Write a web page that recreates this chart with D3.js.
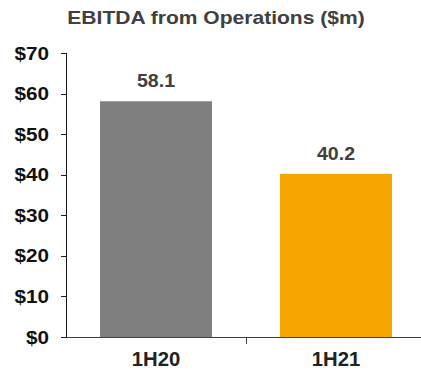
<!DOCTYPE html>
<html><head><meta charset="utf-8">
<script src="https://cdn.jsdelivr.net/npm/d3@7"></script>
<style>
html,body{margin:0;padding:0;background:#fff;}
svg{display:block;}
text{font-family:"Liberation Sans",Arial,sans-serif;font-weight:bold;}
</style></head>
<body>
<svg id="chart" width="421" height="370"></svg>
<script>
const categories = ["1H20", "1H21"];
const values = [58.1, 40.2];
const labels = ["58.1", "40.2"];
const colors = ["#7f7f7f", "#f5a400"];
const yTicks = [0, 10, 20, 30, 40, 50, 60, 70];
const title = "EBITDA from Operations ($m)";

const svg = d3.select("#chart");
const mLeft = 66, mRight = 426, mTop = 53, mBottom = 337;

const x = d3.scaleBand().domain(categories).range([mLeft, mRight])
  .paddingInner(0.378).paddingOuter(0.189);
const y = d3.scaleLinear().domain([0, 70]).range([mBottom, mTop]);

function stretched(sel, px, py, anchor, sx) {
  return sel.attr("transform", `translate(${px},${py}) scale(${sx},1)`).attr("text-anchor", anchor);
}

// title
stretched(svg.append("text"), 216, 24, "middle", 1.17)
  .attr("font-size", 18).attr("fill", "#404040").text(title);

// bars
svg.selectAll("rect.bar").data(values).join("rect")
  .attr("class", "bar")
  .attr("x", (d, i) => x(categories[i]))
  .attr("width", x.bandwidth())
  .attr("y", d => y(d))
  .attr("height", d => y(0) - y(d))
  .attr("fill", (d, i) => colors[i]);

// value labels
values.forEach((v, i) => {
  stretched(svg.append("text"), x(categories[i]) + x.bandwidth() / 2, y(v) - 14, "middle", 1.12)
    .attr("font-size", 17.5).attr("fill", "#404040").text(labels[i]);
});

// y axis
const yAxis = svg.append("g");
yAxis.append("line").attr("x1", mLeft + 0.5).attr("x2", mLeft + 0.5).attr("y1", y(70)).attr("y2", y(0))
  .attr("stroke", "#1a1a1a").attr("stroke-width", 1);
yTicks.forEach(t => {
  yAxis.append("line").attr("x1", mLeft - 5).attr("x2", mLeft).attr("y1", Math.round(y(t)) + 0.5).attr("y2", Math.round(y(t)) + 0.5)
    .attr("stroke", "#1a1a1a").attr("stroke-width", 1);
  stretched(yAxis.append("text"), 49, y(t) + 6.5, "end", 1.15)
    .attr("font-size", 18).attr("fill", "#111").text("$" + t);
});

// x axis
const xAxis = svg.append("g");
xAxis.append("line").attr("x1", mLeft).attr("x2", mRight).attr("y1", Math.round(y(0)) + 0.5).attr("y2", Math.round(y(0)) + 0.5)
  .attr("stroke", "#404040").attr("stroke-width", 1);
const step = x.step();
[0, 1].forEach(i => {
  const bx = mLeft + step * (i + 1) + 0.5;
  xAxis.append("line").attr("x1", bx).attr("x2", bx).attr("y1", y(0)).attr("y2", y(0) + 7)
    .attr("stroke", "#404040").attr("stroke-width", 1);
});
categories.forEach(c => {
  stretched(xAxis.append("text"), x(c) + x.bandwidth() / 2, 366, "middle", 1.04)
    .attr("font-size", 19.5).attr("fill", "#222").text(c);
});
</script>
</body></html>
